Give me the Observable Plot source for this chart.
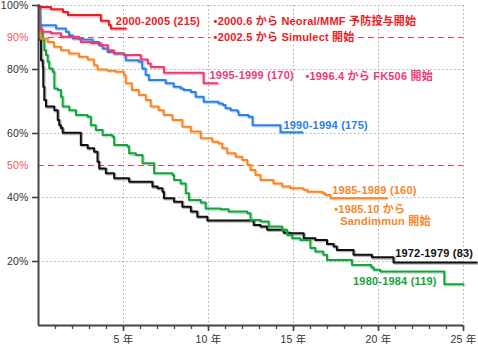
<!DOCTYPE html>
<html><head><meta charset="utf-8">
<script src="https://cdn.jsdelivr.net/npm/d3@7"></script>
<script src="https://cdn.jsdelivr.net/npm/@observablehq/plot@0.6"></script>
<style>
body{margin:0;background:#fff;}
#chart svg{display:block;}
</style></head><body><div id="chart"></div>
<script>
// ---- data (years after transplant, graft survival %) ----
const s1972_years = [0,0.05,0.09,0.15,0.25,0.28,0.34,0.44,0.93,1.13,1.22,1.32,1.42,2.49,2.89,3.27,3.47,3.57,3.96,4.45,5.33,6.70,7.0,7.29,7.38,7.97,8.46,8.96,9.34,9.93,12.66,13.06,13.45,14.42,14.82,15.60,16.28,16.97,17.36,17.55,18.53,19.61,20.88,25.77];
const s1972_pct   = [100,93.3,89.2,82.9,80.8,74.6,70.5,68.4,67.3,64.2,62.6,61.7,60.2,56.4,55.4,54.3,51.2,49.1,47.6,46.0,44.9,43.4,42.9,41.8,39.8,38.7,37.1,35.6,34.0,32.8,31.4,30.9,29.9,29.0,28.8,27.3,26.7,25.5,24.7,23.6,22.1,21.3,19.7,19.7];

const s1980_years = [0,0.03,0.09,0.15,0.25,0.34,0.44,0.54,0.63,0.83,0.93,1.13,1.32,1.42,1.81,2.2,2.89,3.08,3.37,3.77,4.35,4.45,5.23,5.33,5.72,6.12,6.80,7.88,7.97,8.36,8.66,8.85,9.54,9.83,10.71,11.18,12.28,12.47,13.06,13.54,14.33,14.62,14.92,15.40,15.99,16.28,16.75,16.97,18.44,19.57,19.71,20.1,23.87,24.99];
const s1980_pct   = [100,97.0,93.9,91.4,89.2,86.0,84.5,82.4,80.3,79.3,74.1,73.6,71.5,68.4,67.3,65.8,65.2,62.6,61.1,59.5,59.0,56.4,55.9,53.8,53.3,50.7,47.6,47.0,45.5,44.4,41.3,39.2,38.4,36.6,36.3,35.6,35.1,33.0,32.5,30.9,29.9,28.3,27.3,26.7,24.2,23.1,22.1,20.5,18.9,18.2,17.4,16.9,12.9,12.9];

const s1985_years = [0,0.03,0.09,0.54,0.91,1.32,1.79,2.38,2.89,3.26,3.47,4.06,4.55,5.02,5.13,5.49,5.90,6.31,6.60,7.07,7.36,7.88,8.46,8.96,9.54,10.22,10.59,10.81,11.10,11.59,11.98,12.28,12.47,12.76,13.06,13.82,14.33,14.82,15.58,15.82,16.70,16.87,17.17,20.49];
const s1985_pct   = [100,92.3,89.7,88.6,87.1,86.0,85.0,84.0,83.1,81.3,80.0,79.6,79.3,78.2,75.7,73.6,72.0,70.5,68.4,67.3,65.8,64.2,62.1,60.6,58.5,57.4,56.9,55.4,53.8,52.7,51.7,50.2,48.6,47.0,45.5,44.4,43.4,42.9,42.4,41.8,41.3,40.8,39.8,39.8];

const s1990_years = [0,0.06,1.03,1.61,1.79,2.01,2.59,3.18,3.55,3.77,4.06,4.43,5.02,5.13,5.90,6.10,6.30,6.49,7.48,7.95,8.36,8.54,8.96,9.24,9.71,10.59,10.83,11.0,11.3,11.71,11.77,12.35,12.59,14.23,15.52];
const s1990_pct   = [100,93.8,92.8,91.8,90.7,89.7,89.4,88.6,87.6,86.6,85.5,85.0,84.5,82.9,82.4,80.3,78.3,76.7,75.7,74.6,74.1,73.6,73.0,71.5,69.9,69.4,68.9,67.9,67.3,66.8,65.8,65.2,62.6,60.4,60.4];

const s1995_years = [0,0.03,0.06,0.25,0.73,1.32,2.38,2.49,3.08,3.67,4.08,4.43,5.02,6.02,6.43,6.6,7.38,9.71,10.52];
const s1995_pct   = [100,93.8,92.5,91.8,91.3,90.2,89.5,88.6,88.3,87.6,86.0,85.1,84.5,83.1,81.9,80.8,79.0,75.7,75.7];

const s2000_years = [0,0.73,1.44,1.73,3.67,4.14,4.25,5.13];
const s2000_pct   = [99.5,98.8,98.0,97.0,95.2,93.9,92.8,92.8];

const seriesNames  = ["1972-1979","1980-1984","1985-1989","1990-1994","1995-1999","2000-2005"];
const seriesColors = ["#111111","#17a33d","#f7872a","#2a80e6","#ee3a74","#ec1c24"];
const seriesYears  = [s1972_years,s1980_years,s1985_years,s1990_years,s1995_years,s2000_years];
const seriesPct    = [s1972_pct,s1980_pct,s1985_pct,s1990_pct,s1995_pct,s2000_pct];

// ---- axes / reference lines ----
const xMinorTicks = d3.range(1, 26);
const xMajorTicks = [5, 10, 15, 20, 25];
const yGridTicks  = [20, 40, 60, 80, 100];
const yTickLabels = [20, 40, 60, 80, 100];
const yRedTicks   = [50, 90];
const refLines    = [50, 90];

// ---- annotations ----
const noteText  = ["2000-2005 (215)","•2000.6 から Neoral/MMF 予防投与開始","1995-1999 (170)","•1996.4 から FK506 開始","1990-1994 (175)","1985-1989 (160)","•1985.10 から","Sandimmun 開始","1972-1979 (83)","1980-1984 (119)"];
const noteX     = [4.55, 10.3, 10.06, 15.7, 14.41, 17.28, 17.4, 17.75, 20.98, 18.5];
const noteY     = [94.9, 94.9, 78.0, 77.9, 62.6, 42.1, 36.3, 32.5, 22.6, 13.7];
const noteColor = ["#ec1c24","#ec1c24","#ee3a74","#ee3a74","#2a80e6","#f7872a","#f7872a","#f7872a","#111111","#17a33d"];
const simulectText = ["•2002.5 から Simulect 開始"];
const simulectX = [10.3];
const simulectY = [90];

const notes = noteText.map((t, i) => ({t, x: noteX[i], y: noteY[i], c: noteColor[i]}));
const simulect = simulectText.map((t, i) => ({t, x: simulectX[i], y: simulectY[i]}));

const marks = [
  Plot.gridX(xMajorTicks, {stroke: "#aaa", strokeOpacity: 1, strokeDasharray: "1.5,2.5", strokeWidth: 1}),
  Plot.gridY(yGridTicks, {stroke: "#aaa", strokeOpacity: 1, strokeDasharray: "1.5,2.5", strokeWidth: 1}),
  Plot.ruleY(refLines, {stroke: "#f04848", strokeDasharray: "6,4", strokeWidth: 1.2})
];

seriesNames.forEach((name, k) => {
  const rows = seriesYears[k].map((x, i) => ({x, y: seriesPct[k][i]}));
  marks.push(Plot.line(rows, {x: "x", y: "y", curve: "step-after", stroke: seriesColors[k], strokeWidth: 2.6, strokeOpacity: 0.3, dx: 1, dy: 1}));
  marks.push(Plot.line(rows, {x: "x", y: "y", curve: "step-after", stroke: seriesColors[k], strokeWidth: 2}));
});

marks.push(
  Plot.text(simulect, {x: "x", y: "y", text: "t", fill: "#ec1c24", stroke: "white", strokeWidth: 6, textAnchor: "start", fontWeight: "bold", fontSize: 11}),
  Plot.text(notes, {x: "x", y: "y", text: "t", fill: d => d.c, textAnchor: "start", fontWeight: "bold", fontSize: 11}),
  Plot.axisY(yTickLabels, {tickFormat: d => d + "%", tickSize: 6, tickPadding: 4, stroke: "#444", strokeWidth: 1.6, fill: "#333", fontSize: 10.5, label: null}),
  Plot.axisY(yRedTicks, {tickFormat: d => d + "%", tickSize: 0, tickPadding: 10, fill: "#f35555", fontSize: 10.5, label: null}),
  Plot.axisX(xMinorTicks, {tickSize: 4, tickFormat: () => "", stroke: "#444", strokeWidth: 1.3, label: null}),
  Plot.axisX(xMajorTicks, {tickSize: 6, tickPadding: 4, tickFormat: d => d + " 年", stroke: "#444", strokeWidth: 1.6, fill: "#333", fontSize: 10.5, label: null}),
  Plot.ruleX([0], {stroke: "#444", strokeWidth: 2}),
  Plot.ruleY([0], {stroke: "#444", strokeWidth: 2})
);

const chart = Plot.plot({
  width: 478,
  height: 363,
  marginLeft: 38,
  marginRight: 15,
  marginTop: 5,
  marginBottom: 38,
  x: {domain: [0, 25], label: null},
  y: {domain: [0, 100], label: null},
  style: {fontFamily: '"Liberation Sans", Arial, "Noto Sans CJK JP", sans-serif', background: "white", letterSpacing: "0.2px"},
  marks
});
document.getElementById("chart").appendChild(chart);
</script>
</body></html>
